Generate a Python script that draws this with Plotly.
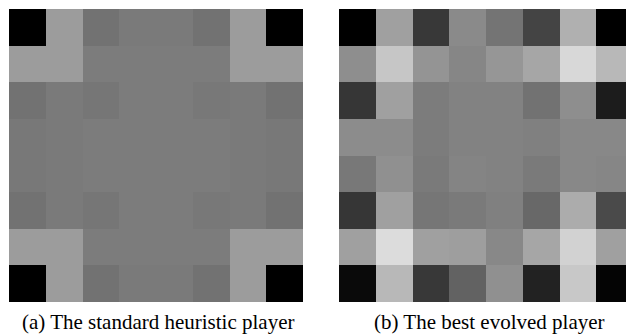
import plotly.graph_objects as go

W, H = 626, 334

# Gray shade of each board square (0 = black, 255 = white), row 0 at the top
standard_heuristic = [
    [0x00, 0x9c, 0x72, 0x7a, 0x7a, 0x72, 0x9c, 0x00],
    [0x9c, 0x9c, 0x7c, 0x7c, 0x7c, 0x7c, 0x9c, 0x9c],
    [0x72, 0x7a, 0x76, 0x7c, 0x7c, 0x78, 0x7a, 0x72],
    [0x78, 0x7a, 0x7c, 0x7c, 0x7c, 0x7c, 0x7a, 0x78],
    [0x78, 0x7a, 0x7c, 0x7c, 0x7c, 0x7c, 0x7a, 0x78],
    [0x72, 0x7a, 0x76, 0x7c, 0x7c, 0x78, 0x7a, 0x72],
    [0x9c, 0x9c, 0x7c, 0x7c, 0x7c, 0x7c, 0x9c, 0x9c],
    [0x00, 0x9c, 0x72, 0x7a, 0x7a, 0x72, 0x9c, 0x00],
]

best_evolved = [
    [0x00, 0xa0, 0x38, 0x8a, 0x74, 0x44, 0xb0, 0x00],
    [0x8e, 0xc6, 0x94, 0x86, 0x96, 0xa6, 0xd8, 0xb8],
    [0x36, 0xa0, 0x7c, 0x82, 0x82, 0x72, 0x8e, 0x1c],
    [0x8c, 0x8c, 0x7c, 0x82, 0x82, 0x80, 0x88, 0x88],
    [0x78, 0x90, 0x7a, 0x84, 0x82, 0x7a, 0x88, 0x86],
    [0x36, 0xa0, 0x76, 0x7a, 0x80, 0x68, 0xac, 0x4a],
    [0xa0, 0xdc, 0xa0, 0x9e, 0x88, 0xa6, 0xd2, 0xa0],
    [0x0a, 0xb8, 0x38, 0x62, 0x90, 0x22, 0xc8, 0x04],
]

captions = ["(a) The standard heuristic player", "(b) The best evolved player"]

gray = [[0.0, "rgb(0,0,0)"], [1.0, "rgb(255,255,255)"]]

fig = go.Figure()
fig.add_trace(go.Heatmap(z=standard_heuristic, colorscale=gray, zmin=0, zmax=255,
                         showscale=False, xaxis="x", yaxis="y", hoverinfo="z"))
fig.add_trace(go.Heatmap(z=best_evolved, colorscale=gray, zmin=0, zmax=255,
                         showscale=False, xaxis="x2", yaxis="y2", hoverinfo="z"))

ax = dict(showticklabels=False, showgrid=False, zeroline=False, ticks="",
          showline=False)
y_dom = [1 - 302 / H, 1 - 9 / H]
cap_font = dict(family="Liberation Serif", size=21, color="black")
fig.update_layout(
    width=W, height=H,
    margin=dict(l=0, r=0, t=0, b=0),
    paper_bgcolor="white", plot_bgcolor="white",
    xaxis=dict(domain=[9 / W, 303 / W], range=[-0.5, 7.5], **ax),
    yaxis=dict(domain=y_dom, range=[7.5, -0.5], **ax),
    # the right board runs past the page edge, so its last column is cut
    xaxis2=dict(domain=[339 / W, 1.0], range=[-0.5, -0.5 + 287 / 36.75], anchor="y2", **ax),
    yaxis2=dict(domain=y_dom, range=[7.5, -0.5], anchor="x2", **ax),
    annotations=[
        dict(text=captions[0], x=158 / W, y=1 - 321.5 / H, xref="paper", yref="paper",
             showarrow=False, xanchor="center", yanchor="middle", font=cap_font),
        dict(text=captions[1], x=490 / W, y=1 - 321.5 / H, xref="paper", yref="paper",
             showarrow=False, xanchor="center", yanchor="middle", font=cap_font),
    ],
)

fig.write_html("out.html")
